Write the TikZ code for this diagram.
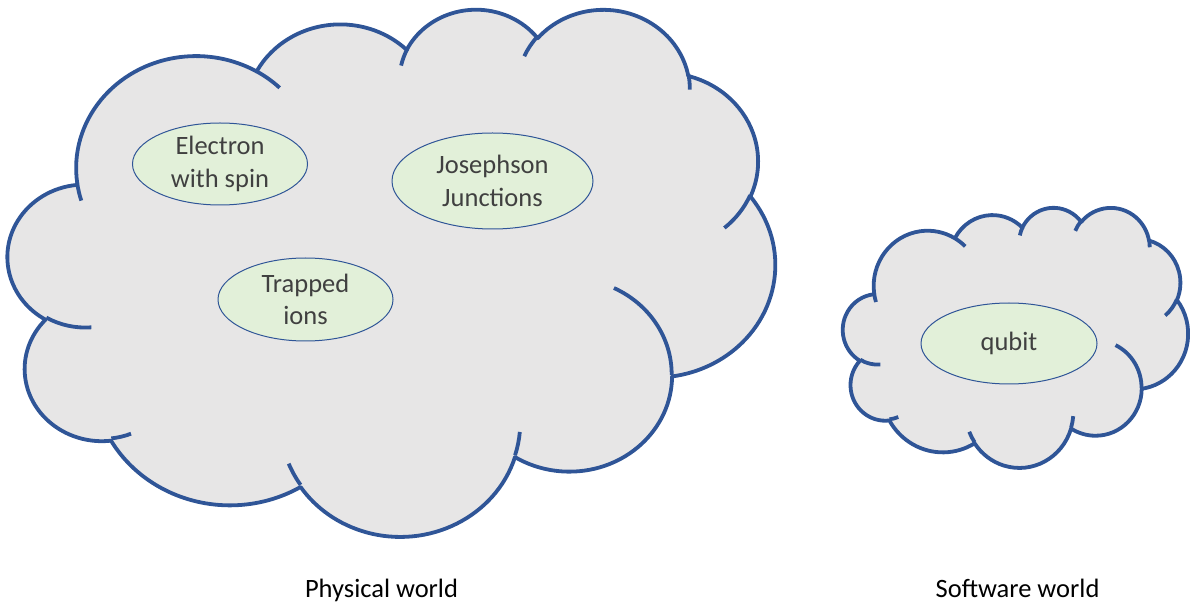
\documentclass[tikz,border=0pt]{standalone}
\usepackage{fontspec}
\setmainfont{Carlito}
\usetikzlibrary{shapes.geometric}
\definecolor{cloudline}{HTML}{2F5597}
\definecolor{cloudfill}{HTML}{E7E6E6}
\definecolor{ovalfill}{HTML}{E2F0D9}
\definecolor{ovalline}{HTML}{2F5597}
\definecolor{txtgray}{HTML}{404040}
\tikzset{
  carc/.style n args={4}{insert path={arc[x radius=#1, y radius=#2,
     start angle={atan2(#1*sin(#3),#2*cos(#3))},
     delta angle={mod(atan2(#1*sin(#3+#4),#2*cos(#3+#4))-atan2(#1*sin(#3),#2*cos(#3))+720,360)}]}},
  cloudbody/.style={draw=cloudline, fill=cloudfill, line width=3.8pt, line join=round},
  cloudcrease/.style={draw=cloudline, line width=3.8pt, line cap=butt},
  oval/.style={ellipse, draw=ovalline, line width=1pt, fill=ovalfill, inner sep=0pt,
     text=txtgray, align=center, font=\fontsize{26.5}{32.5}\selectfont},
  worldlabel/.style={anchor=base, text=black, font=\fontsize{26.5}{30}\selectfont, inner sep=0pt}
}
\newcommand\pptcloud[4]{%
  \begin{scope}[shift={(#1pt,#2pt)}, x=#3pt, y=-#4pt]
    \path[cloudbody] (3.9,14.37)
      [carc={6.753}{9.19}{-190.48748}{123.78053}]
      [carc={5.333}{7.267}{-144.10238}{89.94523}]
      [carc={4.365}{5.945}{-145.80792}{99.72302}]
      [carc={4.857}{6.595}{-130.98607}{117.24173}]
      [carc={5.333}{7.273}{-78.70888}{109.02692}]
      [carc={6.775}{9.22}{-46.26725}{130.269}]
      [carc={5.785}{7.867}{0.62502}{114.03333}]
      [carc={6.752}{9.215}{22.4516}{115.17255}]
      [carc={7.72}{10.543}{66.24263}{75.71102}]
      [carc={4.36}{5.918}{-274.94208}{146.73557}]
      [carc={4.345}{5.945}{-246.8285}{152.51885}]
      -- cycle;
    \path[cloudcrease]
      (4.693,26.177) [carc={4.345}{5.945}{86.742}{26.4295}]
      (6.928,34.899) [carc={4.36}{5.918}{73.61047}{11.44747}]
      (16.478,39.09) [carc={6.752}{9.215}{137.62415}{14.0811}]
      (28.827,34.751) [carc={6.752}{9.215}{6.45327}{15.99835}]
      (34.129,22.954) [carc={5.785}{7.867}{-70.29235}{70.91737}]
      (41.798,15.354) [carc={5.333}{7.273}{30.31803}{27.7515}]
      (38.324,5.426) [carc={4.857}{6.595}{-13.74433}{14.8589}]
      (29.078,3.952) [carc={4.857}{6.595}{-149.18145}{18.19537}]
      (22.141,4.72) [carc={4.365}{5.945}{-163.49427}{17.68635}]
      (14.0,5.192) [carc={6.753}{9.19}{-66.70695}{12.31935}]
      (4.127,15.789) [carc={6.753}{9.19}{157.65435}{11.85817}];
  \end{scope}}
\begin{document}
\begin{tikzpicture}
\useasboundingbox (0,0) rectangle (1190pt,608pt);
% big cloud frame: x0=8, y0=8 (image), w=767, h=527
\pptcloud{8}{600}{17.7546}{12.1991}
% small cloud frame: x0=843, y0=207, w=345, h=260
\pptcloud{843}{401}{7.9861}{6.0185}
\node[oval, minimum width=175pt, minimum height=82pt] (elec) at (220pt,444pt) {Electron\\with spin};
\node[oval, minimum width=201pt, minimum height=96pt] (jos) at (492.5pt,427pt) {Josephson\\Junctions};
\node[oval, minimum width=175pt, minimum height=83pt] (trap) at (305.5pt,308.5pt) {Trapped\\ions};
\node[oval, minimum width=176pt, minimum height=81pt] (qubit) at (1009pt,264.5pt) {qubit};
\node[worldlabel] (phys) at (381.5pt,11pt) {Physical world};
\node[worldlabel] (soft) at (1017.5pt,11pt) {Software world};
\end{tikzpicture}
\end{document}
